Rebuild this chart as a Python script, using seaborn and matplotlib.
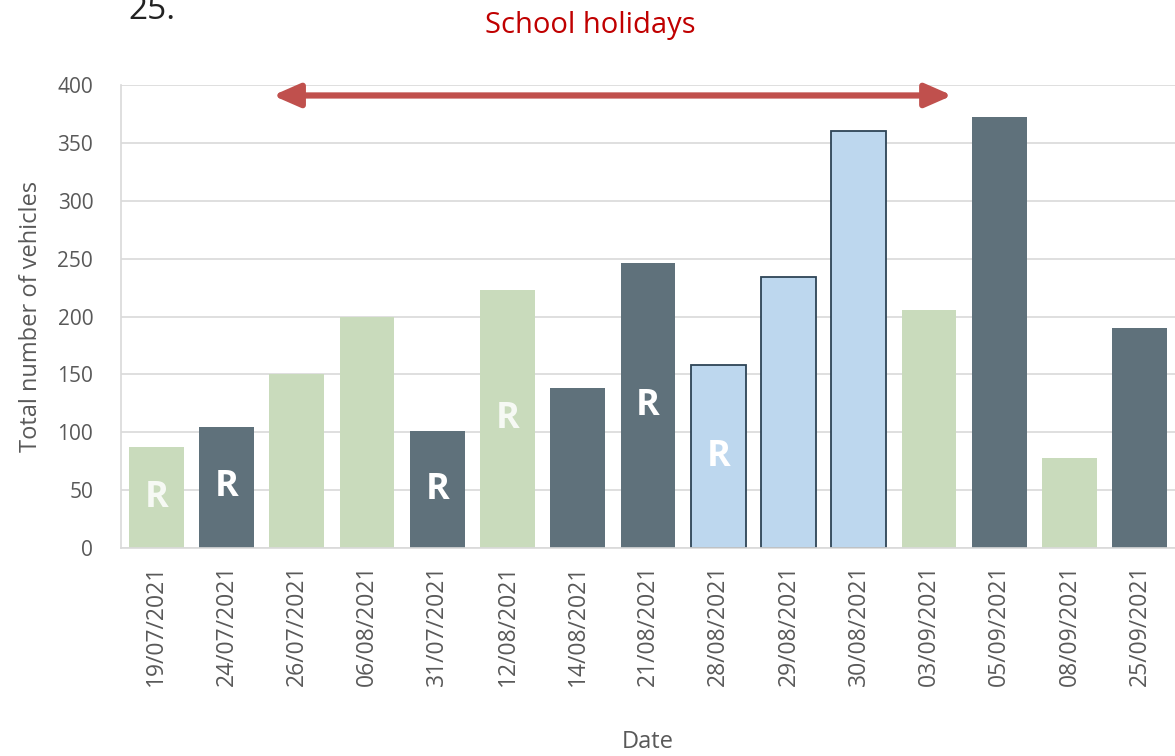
import seaborn as sns
import matplotlib.pyplot as plt
import pandas as pd
import numpy as np

dates = ['19/07/2021', '24/07/2021', '26/07/2021', '06/08/2021', '31/07/2021',
         '12/08/2021', '14/08/2021', '21/08/2021', '28/08/2021', '29/08/2021',
         '30/08/2021', '03/09/2021', '05/09/2021', '08/09/2021', '25/09/2021']
vehicles = [87, 105, 150, 200, 101, 223, 138, 246, 158, 234, 360, 206, 372, 78, 190]
day_type = ['Weekday', 'Weekend', 'Weekday', 'Weekday', 'Weekend',
            'Weekday', 'Weekend', 'Weekend', 'Bank holiday', 'Bank holiday',
            'Bank holiday', 'Weekday', 'Weekend', 'Weekday', 'Weekend']
rain = [True, True, False, False, True, True, False, True, True,
        False, False, False, False, False, False]
holiday_start = '26/07/2021'
holiday_end = '03/09/2021'

df = pd.DataFrame({'Date': dates, 'Vehicles': vehicles, 'Type': day_type, 'Rain': rain})

palette = {'Weekday': '#c9dbbc', 'Weekend': '#5f717b', 'Bank holiday': '#bdd7ee'}

sns.set_style('white')
plt.rcParams['font.family'] = ['Open Sans', 'DejaVu Sans']

fig = plt.figure(figsize=(11.75, 7.56), dpi=100)
ax = fig.add_axes([0.103, 0.275, 0.897, 0.6125])

sns.barplot(x='Date', y='Vehicles', hue='Type', data=df, palette=palette,
            dodge=False, width=0.78, legend=False, ax=ax, saturation=1)

for p in ax.patches:
    fc = p.get_facecolor()
    if np.allclose(fc[:3], plt.matplotlib.colors.to_rgb(palette['Bank holiday'])):
        p.set_edgecolor('#2e4456')
        p.set_linewidth(1.3)
    else:
        p.set_linewidth(0)

ax.set_ylim(0, 400)
ax.set_xlim(-0.5, len(dates) - 0.5)
ax.set_yticks(np.arange(0, 401, 50))
ax.yaxis.grid(True, color='#d9d9d9', linewidth=1.2)
ax.set_axisbelow(True)
for s in ['top', 'right']:
    ax.spines[s].set_visible(False)
for s in ['left', 'bottom']:
    ax.spines[s].set_color('#d9d9d9')
    ax.spines[s].set_linewidth(1.2)

ax.tick_params(axis='x', which='major', length=0, rotation=90, labelsize=16.5,
               labelcolor='#595959', pad=12)
ax.set_xticks(np.arange(-0.5, len(dates), 1), minor=True)
ax.tick_params(axis='x', which='minor', length=8, color='#d9d9d9', width=1.2)
ax.tick_params(axis='y', length=0, labelsize=15, labelcolor='#595959', pad=20)

ax.set_xlabel('Date', fontsize=17, color='#595959', va='center')
ax.xaxis.set_label_coords(0.5, -0.418)
ax.set_ylabel('Total number of vehicles', fontsize=17, color='#595959', labelpad=10)

for i, r in enumerate(rain):
    if r:
        ax.text(i, vehicles[i] / 2, 'R', ha='center', va='center', fontsize=26,
                fontweight='bold', color='white', alpha=0.85 if day_type[i] == 'Weekday' else 1)

x0 = dates.index(holiday_start) - 0.34
x1 = dates.index(holiday_end) + 0.33
ax.annotate('', xy=(x1, 391), xytext=(x0, 391),
            arrowprops=dict(arrowstyle='<|-|>,head_length=1.6,head_width=0.7',
                            color='#c0504d', linewidth=4.5, shrinkA=0, shrinkB=0),
            annotation_clip=False)

fig.text(0.502, 0.966, 'School holidays', ha='center', va='center', fontsize=21, color='#c00000')
fig.text(0.109, 0.986, '25.', ha='left', va='center', fontsize=24, color='#222222')

fig.savefig('out.png', dpi=100)
